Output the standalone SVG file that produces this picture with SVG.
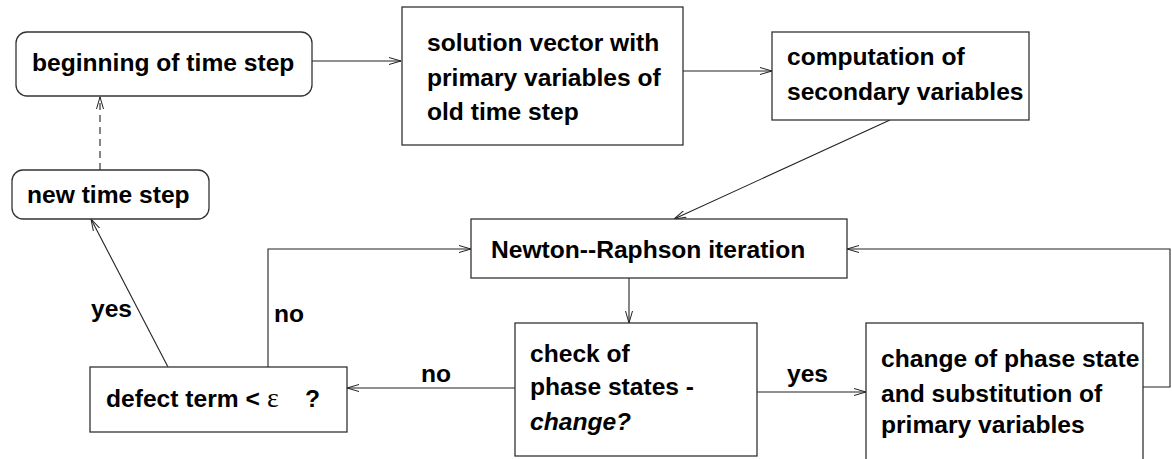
<svg xmlns="http://www.w3.org/2000/svg" width="1172" height="459" viewBox="0 0 1172 459">
<defs>
<marker id="ah" viewBox="0 0 12 8" refX="12" refY="4" markerWidth="12" markerHeight="8" markerUnits="userSpaceOnUse" orient="auto">
<path d="M0,0.5 L12,4 L0,7.5" fill="none" stroke="#222" stroke-width="1"/>
</marker>
</defs>
<style>
.box{fill:#fff;stroke:#333;stroke-width:1.3}
.t{font-family:"Liberation Sans",Arial,sans-serif;font-weight:bold;font-size:24.6px;fill:#000}
.c{fill:none;stroke:#222;stroke-width:1.1}
</style>
<rect width="1172" height="459" fill="#fff"/>
<g id="connectors">
<line class="c" x1="100" y1="170" x2="100" y2="97" stroke-dasharray="7,5" marker-end="url(#ah)"/>
<line class="c" x1="312" y1="61" x2="401" y2="61" marker-end="url(#ah)"/>
<line class="c" x1="683" y1="71" x2="772" y2="71" marker-end="url(#ah)"/>
<line class="c" x1="890" y1="120" x2="674" y2="219" marker-end="url(#ah)"/>
<line class="c" x1="629" y1="278" x2="629" y2="323" marker-end="url(#ah)"/>
<line class="c" x1="515" y1="388" x2="347" y2="388" marker-end="url(#ah)"/>
<line class="c" x1="757" y1="392" x2="866" y2="392" marker-end="url(#ah)"/>
<polyline class="c" points="268,367 268,249 471,249" marker-end="url(#ah)"/>
<line class="c" x1="168" y1="367" x2="91" y2="219" marker-end="url(#ah)"/>
<polyline class="c" points="1143,387 1170,387 1170,249 847,249" marker-end="url(#ah)"/>
<text class="t" x="91" y="317">yes</text>
<text class="t" x="274" y="322">no</text>
<text class="t" x="421" y="382">no</text>
<text class="t" x="787" y="382">yes</text>
</g>
<g id="beginning">
<rect class="box" x="16" y="32" width="296" height="64" rx="11"/>
<text class="t" x="32" y="71">beginning of time step</text>
</g>
<g id="newstep">
<rect class="box" x="12" y="170" width="197" height="49" rx="11"/>
<text class="t" x="27" y="203">new time step</text>
</g>
<g id="solution">
<rect class="box" x="402" y="7" width="281" height="138"/>
<text class="t" x="427" y="51">solution vector with</text>
<text class="t" x="427" y="86">primary variables of</text>
<text class="t" x="427" y="120">old time step</text>
</g>
<g id="computation">
<rect class="box" x="772" y="32" width="257" height="88"/>
<text class="t" x="787" y="65">computation of</text>
<text class="t" x="787" y="100">secondary variables</text>
</g>
<g id="newton">
<rect class="box" x="471" y="219" width="376" height="59"/>
<text class="t" x="491" y="258">Newton--Raphson iteration</text>
</g>
<g id="defect">
<rect class="box" x="90" y="367" width="257" height="65"/>
<text class="t" x="106" y="407">defect term &lt; <tspan x="267" font-family="'Liberation Serif','Times New Roman',serif" font-weight="normal" font-size="28px">ε</tspan><tspan x="305">?</tspan></text>
</g>
<g id="check">
<rect class="box" x="515" y="323" width="242" height="133"/>
<text class="t" x="530" y="362">check of</text>
<text class="t" x="530" y="395">phase states -</text>
<text class="t" x="530" y="430" font-style="italic">change?</text>
</g>
<g id="change">
<rect class="box" x="866" y="323" width="277" height="150"/>
<text class="t" x="881" y="367">change of phase state</text>
<text class="t" x="881" y="402">and substitution of</text>
<text class="t" x="881" y="433">primary variables</text>
</g>
</svg>
